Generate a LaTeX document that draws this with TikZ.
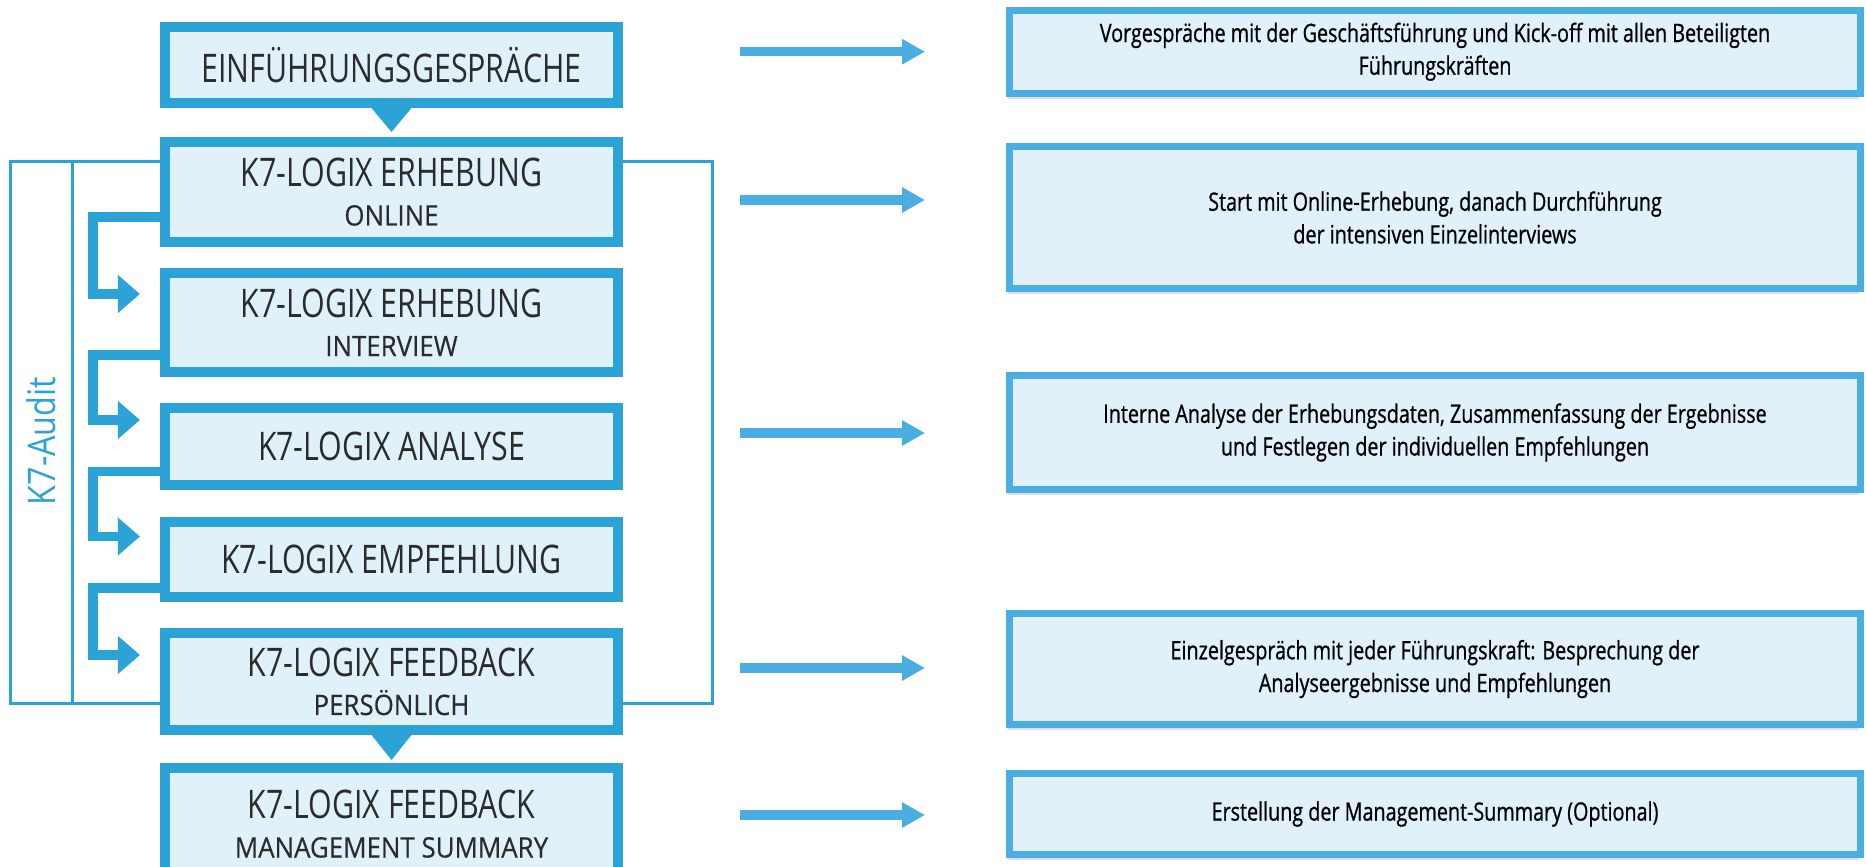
\documentclass[tikz,border=0pt]{standalone}
\usepackage{fontspec}
\usepackage{tikz}
\usepackage{xcolor}
\usetikzlibrary{arrows.meta,shadows}

\newfontfamily\condfont[FakeStretch=0.77]{Open Sans}
\newfontfamily\subfont[FakeStretch=0.92,FakeBold=0.4]{Open Sans}
\newfontfamily\notefont[FakeStretch=0.78,FakeBold=0.8]{Open Sans}
\newfontfamily\auditfont[FakeStretch=0.85]{Open Sans}

\definecolor{k7blue}{HTML}{2CA3D6}
\definecolor{k7light}{HTML}{4AAEE2}
\definecolor{k7fill}{HTML}{E1F1FA}
\definecolor{k7text}{HTML}{2B2B2B}

\tikzset{
  stepbox/.style={draw=k7blue, fill=k7fill, line width=2.8pt, minimum width=4.53cm,
    inner sep=0pt, align=center, text=k7text, font=\condfont\fontsize{11.2}{12.5}\selectfont},
  notebox/.style={draw=k7light, fill=k7fill, line width=2pt, minimum width=8.51cm,
    inner sep=0pt, align=center, text=black, font=\notefont\fontsize{7.2}{9.3}\selectfont,
    drop shadow={shadow xshift=-0.4pt, shadow yshift=-1.5pt, opacity=0.25}},
  flowarrow/.style={draw=k7blue, line width=2.8pt, -{Triangle[length=6.3pt,width=10.5pt]}},
  sidearrow/.style={draw=k7light, line width=2.6pt, -{Triangle[length=6.5pt,width=6.8pt]}},
  frameline/.style={draw=k7blue, line width=0.85pt},
  pointer/.style={fill=k7blue}
}
\newcommand{\sub}[1]{{\subfont\fontsize{8}{9}\selectfont #1}}

\begin{document}
\begin{tikzpicture}[x=0.01cm, y=-0.01cm]
\useasboundingbox[fill=white] (0,0) rectangle (1866,866);

\draw[frameline] (10.7,161.7) rectangle (712.5,703.3);
\draw[frameline] (72.7,161.7) -- (72.7,703.3);
\node[rotate=90, text=k7blue, font=\auditfont\fontsize{10.8}{12}\selectfont] (audit) at (41,441) {K7-Audit};

\node[stepbox, minimum height=0.76cm] (b1) at (391.5,65) {EINFÜHRUNGSGESPRÄCHE};
\node[stepbox, minimum height=1.00cm] (b2) at (391.5,192) {K7-LOGIX ERHEBUNG\\[-1.5pt]\sub{ONLINE}};
\node[stepbox, minimum height=0.99cm] (b3) at (391.5,322.5) {K7-LOGIX ERHEBUNG\\[-1.5pt]\sub{INTERVIEW}};
\node[stepbox, minimum height=0.77cm] (b4) at (391.5,446.5) {K7-LOGIX ANALYSE};
\node[stepbox, minimum height=0.75cm] (b5) at (391.5,559.5) {K7-LOGIX EMPFEHLUNG};
\node[stepbox, minimum height=0.97cm] (b6) at (391.5,681.5) {K7-LOGIX FEEDBACK\\[-1.5pt]\sub{PERSÖNLICH}};
\node[stepbox, minimum height=1.12cm] (b7) at (391.5,824) {K7-LOGIX FEEDBACK\\[-1.5pt]\sub{MANAGEMENT SUMMARY}};

\fill[pointer] ([xshift=-0.2cm]b1.south) -- ([xshift=0.2cm]b1.south) -- ([yshift=-0.24cm]b1.south) -- cycle;
\fill[pointer] ([xshift=-0.2cm]b6.south) -- ([xshift=0.2cm]b6.south) -- ([yshift=-0.25cm]b6.south) -- cycle;

\draw[flowarrow, shorten >=0.2cm] ([yshift=-0.25cm]b2.west) -- ++(-67,0) |- ([yshift=0.285cm]b3.west);
\draw[flowarrow, shorten >=0.2cm] ([yshift=-0.325cm]b3.west) -- ++(-67,0) |- ([yshift=0.265cm]b4.west);
\draw[flowarrow, shorten >=0.2cm] ([yshift=-0.25cm]b4.west) -- ++(-67,0) |- ([yshift=0.23cm]b5.west);
\draw[flowarrow, shorten >=0.2cm] ([yshift=-0.285cm]b5.west) -- ++(-67,0) |- ([yshift=0.265cm]b6.west);

\node[notebox, minimum height=0.83cm] (n1) at (1435,51.7) {Vorgespräche mit der Geschäftsführung und Kick-off mit allen Beteiligten\\Führungskräften};
\node[notebox, minimum height=1.42cm] (n2) at (1435,217.5) {Start mit Online-Erhebung, danach Durchführung\\der intensiven Einzelinterviews};
\node[notebox, minimum height=1.14cm] (n3) at (1435,432.5) {Interne Analyse der Erhebungsdaten, Zusammenfassung der Ergebnisse\\und Festlegen der individuellen Empfehlungen};
\node[notebox, minimum height=1.11cm] (n4) at (1435,669) {Einzelgespräch mit jeder Führungskraft: Besprechung der\\Analyseergebnisse und Empfehlungen};
\node[notebox, minimum height=0.81cm] (n5) at (1435,814) {Erstellung der Management-Summary (Optional)};

\foreach \y [count=\i] in {51.7,200,433,668,815} {
  \coordinate (s\i) at (740,\y);
  \coordinate (e\i) at (925,\y);
  \draw[sidearrow] (s\i) -- (e\i);
}
\end{tikzpicture}
\end{document}
